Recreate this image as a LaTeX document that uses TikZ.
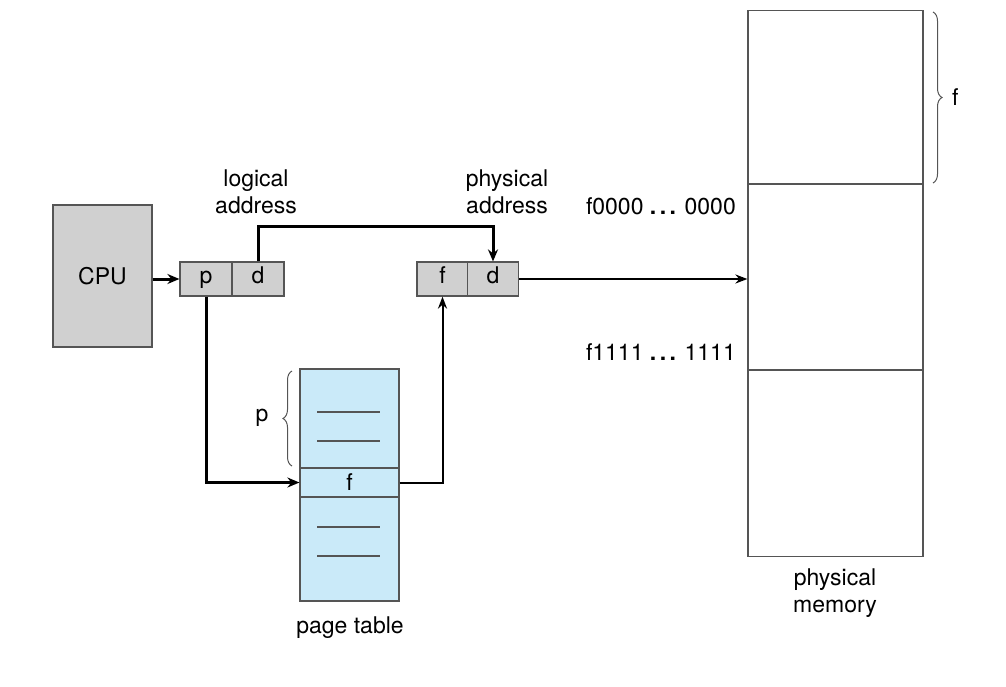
\documentclass[tikz,border=0pt]{standalone}
\usepackage{fontspec}
\setmainfont{TeX Gyre Heros}
\usetikzlibrary{positioning,arrows.meta,decorations.pathreplacing}

\definecolor{boxgray}{RGB}{208,208,208}
\definecolor{tableblue}{RGB}{202,234,249}
\definecolor{edgegray}{RGB}{85,85,85}

\newcommand{\bigdots}{{\bfseries .\hspace{3.5pt}.\hspace{3.5pt}.}}

\tikzset{
    lbl/.style={font=\fontsize{23}{27}\selectfont, align=center, inner sep=0pt},
    cell/.style={draw=edgegray, fill=boxgray, line width=1.2pt, minimum width=52pt,
        minimum height=34pt, inner sep=0pt, text height=13pt, text depth=4pt,
        font=\fontsize{23}{26}\selectfont},
    link/.style={line width=2pt, -{Stealth[length=12pt,width=9pt]}},
    boldlink/.style={line width=3pt, -{Stealth[length=12pt,width=10pt]}},
    curly/.style={draw=edgegray, line width=1pt, decorate,
        decoration={brace, amplitude=9pt}},
}

\begin{document}
\begin{tikzpicture}[x=1pt, y=-1pt]
    \useasboundingbox (0,0) rectangle (1006,686);

    % CPU
    \node[draw=edgegray, fill=boxgray, line width=1.2pt, minimum width=99pt,
        minimum height=142pt, font=\fontsize{23}{26}\selectfont] (cpu) at (102.5,276) {CPU};

    % logical address
    \node[cell] (lp) at (206,279) {p};
    \node[cell] (ld) at (258,279) {d};
    \node[lbl] (logical) at (256,192) {logical\\address};

    % physical address
    \node[cell, minimum width=51pt] (pf) at (442.5,279) {f};
    \node[cell, minimum width=51pt] (pd) at (493,279) {d};
    \node[lbl] (physical) at (507,192) {physical\\address};

    % page table
    \node[draw=edgegray, fill=tableblue, line width=1.2pt, minimum width=99pt,
        minimum height=232pt, inner sep=0pt] (table) at (349.5,485) {};
    \node[draw=edgegray, line width=1.2pt, minimum width=99pt, minimum height=29pt,
        inner sep=0pt, font=\fontsize{23}{26}\selectfont] (frow) at (349.5,482.5) {f};
    \foreach \y in {412,441,527,556}
        \draw[edgegray, line width=1.2pt] (317,\y) -- (380,\y);
    \node[lbl] (tablename) at (350,628) {page table};
    \draw[curly] (292,466) -- (292,371);
    \node[lbl] (pidx) at (262,418) {p};

    % physical memory
    \node[draw=edgegray, line width=1.2pt, minimum width=175pt, minimum height=546pt,
        inner sep=0pt] (mem) at (835.5,283.5) {};
    \draw[edgegray, line width=1.2pt] (748,184) -- (923,184);
    \draw[edgegray, line width=1.2pt] (748,370) -- (923,370);
    \node[lbl] (memname) at (835,593) {physical\\memory};
    \node[lbl, anchor=east] (lo) at (736,206) {f0000 \bigdots{} 0000};
    \node[lbl, anchor=east] (hi) at (736,352) {f1111 \bigdots{} 1111};
    \draw[curly] (933,12) -- (933,183);
    \node[lbl, anchor=west] (fidx) at (952,97) {f};

    % connectors
    \draw[boldlink] (cpu.east |- lp.west) -- (lp.west);
    \draw[boldlink] (lp.south) |- (frow.west);
    \draw[link] (frow.east) -| (pf.south);
    \draw[boldlink] (ld.north) -- ++(0,-35) -| (pd.north);
    \draw[link] (pd.east) -- (mem.west |- pd.east);

\end{tikzpicture}
\end{document}
